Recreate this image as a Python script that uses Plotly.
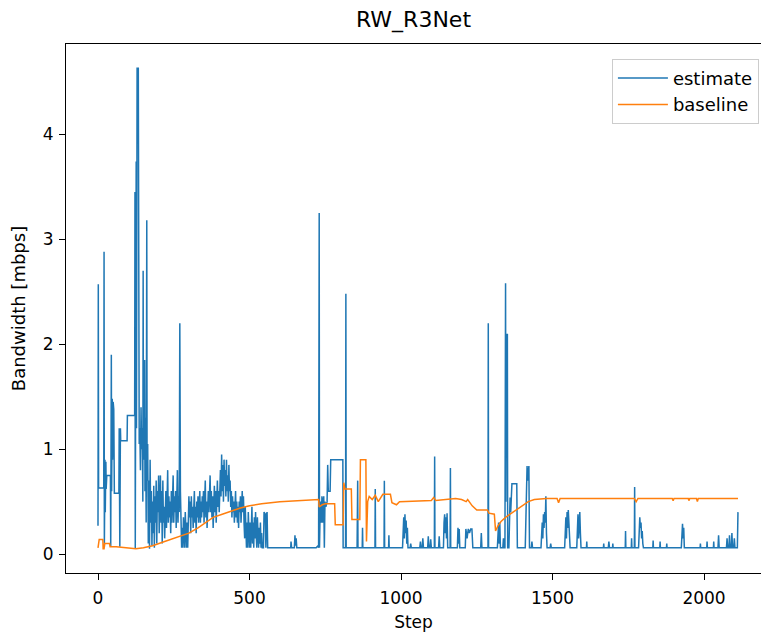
import plotly.graph_objects as go

# ---- data: (step, bandwidth) ----
estimate_early = [
    (0, 0.27), (1, 2.57), (2, 0.63), (19, 0.63), (20, 2.88), (21, 0.07), (23, 0.9), (24, 0.4), (26, 0.88),
    (27, 0.62), (29, 0.75), (41, 0.75), (42, 0.07), (44, 1.9), (45, 0.6), (47, 1.48), (48, 0.9), (50, 1.45),
    (52, 1.38), (54, 0.58), (69, 0.58), (70, 1.2), (72, 0.07), (74, 1.2), (75, 1.08), (96, 1.08), (97, 1.32),
    (121, 1.32), (122, 3.45), (123, 0.05), (124, 1.4), (126, 3.74), (127, 1.2), (129, 4.63), (133, 4.63),
    (134, 1.4), (136, 1.05), (138, 1.2), (140, 0.8), (142, 1.4), (144, 1.0), (146, 1.2), (148, 0.5), (149, 2.7),
    (150, 0.9), (152, 1.4), (154, 1.85), (155, 0.6), (157, 1.3), (159, 0.3), (161, 3.18), (162, 0.7),
    (164, 1.05), (166, 0.1), (168, 0.7), (170, 0.05), (172, 0.9), (174, 0.3), (176, 0.6), (178, 0.08),
    (180, 0.5), (182, 0.2), (184, 0.65), (186, 0.06), (188, 0.55), (190, 0.3), (192, 0.7), (194, 0.1),
    (196, 0.6), (198, 0.4), (200, 0.75), (202, 0.2), (204, 0.5), (206, 0.75), (208, 0.3), (210, 0.6),
    (212, 0.1), (214, 0.7), (216, 0.3), (218, 0.45), (220, 0.15), (222, 0.45), (224, 0.6), (226, 0.25),
    (228, 0.55), (230, 0.8), (232, 0.3), (234, 0.55), (236, 0.35), (238, 0.5), (240, 0.2), (242, 0.6),
    (244, 0.3), (246, 0.55), (248, 0.75), (250, 0.3), (252, 0.55), (254, 0.4), (256, 0.6), (258, 0.25),
    (260, 0.5), (262, 0.8), (264, 0.3), (266, 0.55), (268, 0.4), (270, 2.2), (272, 0.6), (274, 0.3),
    (276, 0.06), (278, 0.25), (280, 0.06), (282, 0.35), (284, 0.15), (286, 0.06), (288, 0.4), (290, 0.2),
    (292, 0.06), (294, 0.3), (296, 0.06), (298, 0.3), (300, 0.55), (302, 0.35), (304, 0.5), (306, 0.2),
    (308, 0.55), (310, 0.35), (312, 0.45), (314, 0.25), (316, 0.5), (318, 0.6), (320, 0.3), (322, 0.45),
    (324, 0.2), (326, 0.5), (328, 0.35), (330, 0.55), (332, 0.3), (334, 0.45), (336, 0.6), (338, 0.3),
    (340, 0.5), (342, 0.35), (344, 0.55), (346, 0.4), (348, 0.6), (350, 0.3), (352, 0.55), (354, 0.7),
    (356, 0.35), (358, 0.5), (360, 0.25), (362, 0.45), (364, 0.6), (366, 0.4), (368, 0.55), (370, 0.75),
    (372, 0.4), (374, 0.6), (376, 0.35), (378, 0.55), (380, 0.25), (382, 0.5), (384, 0.65), (386, 0.4),
    (388, 0.6), (390, 0.3), (392, 0.55), (394, 0.7), (396, 0.45), (398, 0.6), (400, 0.4), (402, 0.65),
    (404, 0.8), (406, 0.55), (408, 0.95), (410, 0.6), (412, 0.85), (414, 0.5), (416, 0.9), (418, 0.65),
    (420, 0.8), (422, 0.55), (424, 0.9), (426, 0.6), (428, 0.75), (430, 0.5), (432, 0.85), (434, 0.6),
    (436, 0.7), (438, 0.45), (440, 0.6), (442, 0.35), (444, 0.55), (446, 0.4), (448, 0.5), (450, 0.3),
    (452, 0.45), (454, 0.6), (456, 0.35), (458, 0.5), (460, 0.3), (462, 0.45), (464, 0.25), (466, 0.5),
    (468, 0.4), (470, 0.55), (472, 0.3), (474, 0.45), (476, 0.6), (478, 0.4), (480, 0.55), (482, 0.3),
    (484, 0.15), (486, 0.45), (488, 0.2), (490, 0.06), (492, 0.3), (494, 0.06), (496, 0.4), (498, 0.25),
    (500, 0.06), (502, 0.3), (504, 0.06), (506, 0.25), (508, 0.45), (510, 0.1), (512, 0.3), (514, 0.06),
    (516, 0.35), (518, 0.15), (520, 0.4), (522, 0.2), (524, 0.06), (526, 0.35), (528, 0.2), (530, 0.06),
    (532, 0.25), (534, 0.1), (536, 0.3), (538, 0.06), (540, 0.2), (542, 0.06), (546, 0.06), (548, 0.4),
    (552, 0.38), (554, 0.06), (556, 0.38), (558, 0.4), (560, 0.06),
]
estimate_middle = [
    (636, 0.06), (637, 0.12), (639, 0.06), (648, 0.06), (650, 0.18), (652, 0.08), (654, 0.15), (656, 0.06),
    (720, 0.06), (726, 0.08), (728, 0.06), (730, 3.25), (731, 0.06), (733, 0.4), (735, 0.5), (737, 0.3),
    (739, 0.55), (741, 0.3), (743, 0.5), (745, 0.55), (747, 0.06), (749, 0.5), (752, 0.45), (756, 0.5),
    (758, 0.85), (760, 0.6), (766, 0.6), (768, 0.9), (808, 0.9), (809, 0.06), (817, 0.06), (818, 2.48),
    (819, 0.06), (855, 0.06), (857, 0.7), (858, 0.06), (872, 0.06), (873, 0.25), (874, 0.06), (914, 0.06),
    (915, 0.62), (916, 0.06), (944, 0.06), (945, 0.7), (946, 0.06), (959, 0.06), (960, 0.18), (961, 0.06),
    (1005, 0.06), (1007, 0.25), (1009, 0.35), (1011, 0.15), (1013, 0.38), (1015, 0.2), (1017, 0.32),
    (1019, 0.1), (1021, 0.25), (1023, 0.06), (1030, 0.06), (1032, 0.1), (1034, 0.06), (1062, 0.06),
    (1064, 0.12), (1066, 0.06), (1070, 0.06), (1072, 0.15), (1074, 0.06), (1088, 0.06), (1090, 0.17),
    (1092, 0.06), (1096, 0.06), (1098, 0.14), (1100, 0.06), (1110, 0.06), (1111, 0.93), (1112, 0.06),
    (1124, 0.06), (1126, 0.17), (1128, 0.06), (1140, 0.06), (1142, 0.3), (1144, 0.38), (1146, 0.2),
    (1148, 0.35), (1150, 0.15), (1152, 0.39), (1154, 0.06), (1162, 0.06), (1163, 0.82), (1164, 0.06),
    (1186, 0.06), (1188, 0.25), (1190, 0.1), (1192, 0.24), (1194, 0.06), (1212, 0.06), (1214, 0.24),
    (1218, 0.15), (1222, 0.24), (1226, 0.2), (1230, 0.24), (1234, 0.24), (1237, 0.06), (1263, 0.06),
    (1265, 0.2), (1267, 0.06), (1287, 0.06), (1288, 2.2), (1289, 0.06), (1318, 0.06), (1320, 0.25),
    (1322, 0.3), (1324, 0.1), (1326, 0.3), (1328, 0.06),
]
estimate_late = [
    (1336, 0.06), (1338, 0.15), (1340, 0.06), (1343, 0.06), (1344, 1.2), (1345, 2.58), (1346, 0.5),
    (1348, 2.1), (1350, 1.5), (1351, 2.1), (1352, 0.06), (1356, 0.06), (1358, 0.3), (1360, 0.54),
    (1362, 0.4), (1364, 0.55), (1366, 0.67), (1382, 0.67), (1384, 0.06), (1410, 0.06), (1412, 0.3),
    (1414, 0.6), (1416, 0.84), (1418, 0.7), (1422, 0.84), (1424, 0.06), (1430, 0.06), (1432, 0.12),
    (1434, 0.06), (1462, 0.06), (1464, 0.2), (1466, 0.3), (1468, 0.15), (1470, 0.38), (1472, 0.25),
    (1474, 0.4), (1476, 0.3), (1478, 0.55), (1480, 0.2), (1482, 0.06), (1492, 0.06), (1494, 0.1),
    (1496, 0.06), (1540, 0.06), (1542, 0.2), (1544, 0.35), (1546, 0.15), (1548, 0.4), (1550, 0.25),
    (1552, 0.42), (1554, 0.3), (1556, 0.15), (1558, 0.06), (1580, 0.06), (1582, 0.25), (1584, 0.38),
    (1586, 0.15), (1588, 0.3), (1590, 0.4), (1592, 0.2), (1594, 0.06), (1612, 0.06), (1613, 0.12),
    (1614, 0.06), (1668, 0.06), (1669, 0.1), (1670, 0.06), (1684, 0.06), (1686, 0.12), (1688, 0.06),
    (1698, 0.06), (1699, 0.1), (1700, 0.06), (1740, 0.06), (1741, 0.22), (1742, 0.06), (1760, 0.06),
    (1761, 0.15), (1762, 0.06), (1770, 0.06), (1771, 0.64), (1772, 0.06), (1784, 0.06), (1786, 0.2),
    (1788, 0.35), (1790, 0.25), (1792, 0.3), (1794, 0.15), (1796, 0.22), (1798, 0.1), (1800, 0.06),
    (1831, 0.06), (1832, 0.13), (1833, 0.06), (1854, 0.06), (1855, 0.12), (1856, 0.06), (1876, 0.06),
    (1877, 0.1), (1878, 0.06), (1925, 0.06), (1927, 0.2), (1929, 0.29), (1931, 0.15), (1933, 0.25),
    (1935, 0.06), (1987, 0.06), (1988, 0.1), (1989, 0.06), (2009, 0.06), (2010, 0.12), (2011, 0.06),
    (2031, 0.06), (2032, 0.12), (2033, 0.06), (2046, 0.06), (2048, 0.18), (2050, 0.06), (2074, 0.06),
    (2076, 0.15), (2078, 0.06), (2082, 0.06), (2084, 0.18), (2086, 0.06), (2090, 0.06), (2092, 0.2),
    (2094, 0.06), (2098, 0.06), (2100, 0.15), (2102, 0.06), (2110, 0.06), (2112, 0.4),
]
baseline_points = [
    (0, 0.06), (2, 0.1), (4, 0.14), (16, 0.14), (17, 0.05), (20, 0.05), (22, 0.1), (38, 0.1), (40, 0.07),
    (60, 0.07), (100, 0.06), (125, 0.05), (150, 0.06), (180, 0.08), (220, 0.12), (260, 0.16), (300, 0.2),
    (330, 0.25), (355, 0.3), (380, 0.35), (410, 0.38), (440, 0.41), (470, 0.44), (500, 0.46), (540, 0.48),
    (600, 0.5), (650, 0.51), (700, 0.52), (728, 0.52), (730, 0.45), (740, 0.47), (750, 0.48), (781, 0.48),
    (783, 0.28), (809, 0.28), (811, 0.68), (815, 0.62), (836, 0.62), (838, 0.33), (864, 0.33), (866, 0.9),
    (884, 0.9), (886, 0.12), (890, 0.5), (895, 0.55), (905, 0.52), (915, 0.56), (925, 0.5), (935, 0.55),
    (940, 0.57), (965, 0.57), (970, 0.49), (985, 0.47), (995, 0.5), (1100, 0.51), (1108, 0.54), (1115, 0.51),
    (1160, 0.52), (1180, 0.53), (1200, 0.52), (1215, 0.5), (1220, 0.52), (1235, 0.46), (1250, 0.42),
    (1285, 0.42), (1290, 0.39), (1308, 0.38), (1312, 0.22), (1320, 0.27), (1330, 0.31), (1345, 0.35),
    (1360, 0.38), (1380, 0.42), (1400, 0.46), (1420, 0.5), (1440, 0.52), (1480, 0.53), (1515, 0.53),
    (1520, 0.49), (1525, 0.53), (1770, 0.53), (1776, 0.5), (1782, 0.53), (1895, 0.53), (1898, 0.51),
    (1901, 0.53), (1948, 0.53), (1950, 0.51), (1953, 0.53), (1975, 0.53), (1978, 0.5), (1981, 0.53),
    (2112, 0.53),
]
x_ticks = [0, 500, 1000, 1500, 2000]
y_ticks = [0, 1, 2, 3, 4]

estimate_points = estimate_early + estimate_middle + estimate_late
est_step = [p[0] for p in estimate_points]
est_val = [p[1] for p in estimate_points]
base_step = [p[0] for p in baseline_points]
base_val = [p[1] for p in baseline_points]

FONT = "DejaVu Sans"
FS = 17
INK = "black"

fig = go.Figure()
fig.add_trace(go.Scatter(x=est_step, y=est_val, mode="lines", name="estimate",
                         line=dict(color="#1f77b4", width=1.5)))
fig.add_trace(go.Scatter(x=base_step, y=base_val, mode="lines", name="baseline",
                         line=dict(color="#ff7f0e", width=1.5)))

axis_common = dict(showgrid=False, zeroline=False, showline=True, linecolor="black", linewidth=1,
                   ticks="outside", ticklen=6, tickcolor="black", tickwidth=1,
                   tickfont=dict(family=FONT, size=FS, color=INK))

fig.update_layout(
    width=761, height=637,
    margin=dict(l=66, r=0, t=44, b=64),
    paper_bgcolor="white", plot_bgcolor="white",
    font=dict(family=FONT, color=INK),
    title=dict(text="RW_R3Net", x=0.5, xref="paper", xanchor="center",
               y=1 - 19 / 637, yref="container", yanchor="middle",
               font=dict(family=FONT, size=22, color=INK)),
    xaxis=dict(range=[-105.6, 2188], tickvals=x_ticks, mirror=True, ticklabelstandoff=4,
               title=dict(text="Step", font=dict(family=FONT, size=FS), standoff=8), **axis_common),
    yaxis=dict(range=[-0.18, 4.86], tickvals=y_ticks, ticklabelstandoff=2,
               title=dict(text="Bandwidth [mbps]", font=dict(family=FONT, size=18), standoff=12),
               **axis_common),
    legend=dict(x=0.997, y=0.972, xanchor="right", yanchor="top",
                bgcolor="rgba(255,255,255,0.8)", bordercolor="#cccccc", borderwidth=1,
                itemwidth=50,
                font=dict(family=FONT, size=18, color=INK)),
    showlegend=True,
)

fig.write_html("out.html")
